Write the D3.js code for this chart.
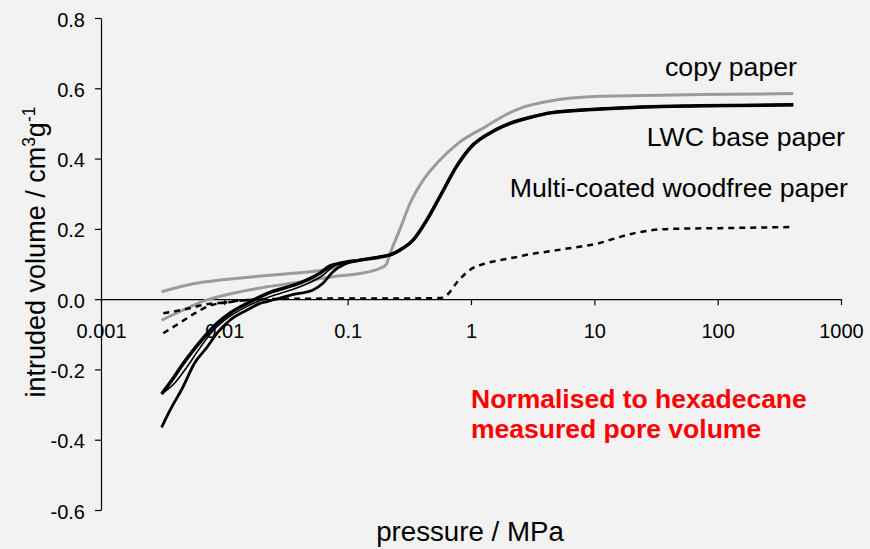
<!DOCTYPE html>
<html>
<head>
<meta charset="utf-8">
<script src="https://cdn.jsdelivr.net/npm/d3@7"></script>
<style>
  html, body { margin: 0; padding: 0; background: #f2f2f2; }
  svg { display: block; }
  text { font-family: "Liberation Sans", Arial, sans-serif; fill: #000; }
</style>
</head>
<body>
<svg id="chart" width="870" height="549"></svg>
<script>
// Mercury intrusion curves: [pressure / MPa, intruded volume / cm3 g-1]

// Copy paper (grey): low-pressure branches and the shared intrusion step
const copyLow = [[0.0031,-0.060],[0.0045,-0.033],[0.0065,-0.008],[0.0118,0.017],[0.0222,0.035],
  [0.041,0.049],[0.076,0.064],[0.126,0.073],[0.183,0.088]];
const copyLowRepeat = [[0.0031,0.021],[0.0056,0.044],[0.0102,0.056],[0.0187,0.065],[0.034,0.073],
  [0.05,0.078],[0.07,0.086],[0.09,0.096]];
const copyHigh = [[0.205,0.098],[0.221,0.130],[0.266,0.200],[0.318,0.270],[0.408,0.338],[0.54,0.390],
  [0.79,0.444],[1.3,0.490],[1.9,0.524],[2.5,0.543],[4.4,0.564],[11,0.577],[72,0.582],[410,0.585]];

// LWC base paper (black): three low-pressure branches joining one intrusion curve
const lwcLowA = [[0.0031,-0.270],[0.00384,-0.226],[0.00454,-0.188],[0.00547,-0.150],[0.00671,-0.112],
  [0.00873,-0.069],[0.0111,-0.040],[0.0161,-0.008],[0.0222,0.016],[0.041,0.046],[0.0596,0.074],
  [0.0716,0.094],[0.087,0.102],[0.126,0.111],[0.183,0.120]];
const lwcLowB = [[0.0031,-0.365],[0.00363,-0.316],[0.00462,-0.250],[0.00571,-0.183],[0.00724,-0.137],
  [0.00873,-0.097],[0.0111,-0.060],[0.0153,-0.031],[0.0195,-0.012],[0.0222,-0.007],[0.035,0.012],
  [0.0524,0.026],[0.063,0.045],[0.076,0.078],[0.095,0.100],[0.126,0.111],[0.183,0.120]];
const lwcLowC = [[0.0031,-0.270],[0.0040,-0.237],[0.0050,-0.192],[0.0063,-0.140],[0.0080,-0.092],
  [0.0105,-0.055],[0.015,-0.022],[0.0222,0.004],[0.041,0.035],[0.063,0.068],[0.076,0.092],[0.087,0.102]];
const lwcHigh = [[0.221,0.126],[0.266,0.140],[0.339,0.168],[0.438,0.225],[0.556,0.290],[0.771,0.380],
  [1.0,0.433],[1.43,0.473],[2.07,0.500],[3.16,0.519],[4.38,0.530],[11.1,0.541],[25,0.547],[72,0.550],[410,0.553]];

// Multi-coated woodfree paper (dashed)
const mcwLowA = [[0.0032,-0.040],[0.0045,-0.031],[0.0074,-0.014],[0.0105,-0.009],[0.0147,-0.003],[0.0206,0.000]];
const mcwLowB = [[0.0032,-0.097],[0.0042,-0.071],[0.0058,-0.040],[0.0074,-0.020],[0.0105,-0.009],
  [0.0147,-0.003],[0.0206,0.000]];
const mcwHigh = [[0.04,0.001],[0.1,0.002],[0.3,0.002],[0.56,0.003],[0.64,0.012],[0.771,0.048],[0.98,0.083],
  [1.35,0.103],[1.73,0.111],[2.36,0.120],[3.0,0.128],[4.12,0.135],[6.3,0.145],[11.1,0.160],[16.1,0.177],
  [23.4,0.191],[41,0.200],[104,0.202],[385,0.205]];

// Axis ticks
const xTicks = [0.001, 0.01, 0.1, 1, 10, 100, 1000];
const xTickLabels = ["0.001", "0.01", "0.1", "1", "10", "100", "1000"];
const yTicks = [-0.6, -0.4, -0.2, 0.0, 0.2, 0.4, 0.6, 0.8];

// Series labels
const seriesLabels = ["copy paper", "LWC base paper", "Multi-coated woodfree paper"];
const noteLines = ["Normalised to hexadecane", "measured pore volume"];

const svg = d3.select("#chart");

const x = d3.scaleLog().domain([0.001, 1000]).range([101, 841]);
const y = d3.scaleLinear().domain([-0.6, 0.8]).range([510, 18]);

// Axes: x axis runs along volume = 0
const xAxis = svg.append("g")
  .attr("transform", `translate(0,${y(0)})`)
  .call(d3.axisBottom(x).tickValues(xTicks)
    .tickFormat((d, i) => xTickLabels[i]).tickSize(6).tickSizeOuter(0).tickPadding(19));
const yAxis = svg.append("g")
  .attr("transform", `translate(${x(0.001)},0)`)
  .call(d3.axisLeft(y).tickValues(yTicks)
    .tickFormat(d => d.toFixed(1)).tickSize(6).tickSizeOuter(0).tickPadding(10));

[xAxis, yAxis].forEach(g => {
  g.select(".domain").attr("stroke", "#000").attr("stroke-width", 1.2);
  g.selectAll(".tick line").attr("stroke", "#000").attr("stroke-width", 1.2);
  g.selectAll(".tick text").attr("font-size", 20).attr("font-family", "Liberation Sans, Arial, sans-serif").attr("fill", "#000");
});
yAxis.selectAll(".tick text").attr("dy", "0.4em");

const line = d3.line()
  .x(d => x(d[0]))
  .y(d => y(d[1]))
  .curve(d3.curveMonotoneX);

const curves = svg.append("g").attr("fill", "none").attr("stroke-linejoin", "round");

// grey copy paper
curves.append("path").attr("d", line(copyLowRepeat)).attr("stroke", "#9b9b9b").attr("stroke-width", 3);
curves.append("path").attr("d", line(copyLow.concat(copyHigh))).attr("stroke", "#9b9b9b").attr("stroke-width", 3);

// black LWC base paper
curves.append("path").attr("d", line(lwcLowC)).attr("stroke", "#000").attr("stroke-width", 1.6);
curves.append("path").attr("d", line(lwcLowB.concat(lwcHigh))).attr("stroke", "#000").attr("stroke-width", 2.8);
curves.append("path").attr("d", line(lwcLowA.concat(lwcHigh))).attr("stroke", "#000").attr("stroke-width", 3.5);

// dashed multi-coated woodfree paper
curves.append("path").attr("d", line(mcwLowB)).attr("stroke", "#000").attr("stroke-width", 2.5).attr("stroke-dasharray", "6,5");
curves.append("path").attr("d", line(mcwLowA.concat(mcwHigh))).attr("stroke", "#000").attr("stroke-width", 2.5).attr("stroke-dasharray", "6,5");

// series labels
const labelPos = [[797, 76], [845, 146], [848, 197]];
svg.append("g").selectAll("text").data(seriesLabels).join("text")
  .attr("x", (d, i) => labelPos[i][0]).attr("y", (d, i) => labelPos[i][1])
  .attr("text-anchor", "end").attr("font-size", 26.7).text(d => d);

// red note
svg.append("g").selectAll("text").data(noteLines).join("text")
  .attr("x", 471).attr("y", (d, i) => 408 + i * 30)
  .attr("font-size", 26.5).attr("font-weight", "bold").style("fill", "#ff0000").text(d => d);

// axis titles
svg.append("text").attr("x", 470).attr("y", 541).attr("text-anchor", "middle")
  .attr("font-size", 27.7).text("pressure / MPa");

const yTitle = svg.append("text")
  .attr("transform", "translate(45,252) rotate(-90)")
  .attr("text-anchor", "middle").attr("font-size", 27);
yTitle.append("tspan").text("intruded volume / cm");
yTitle.append("tspan").attr("font-size", 17.5).attr("dy", -10).text("3");
yTitle.append("tspan").attr("dy", 10).text("g");
yTitle.append("tspan").attr("font-size", 17.5).attr("dy", -10).text("-1");
</script>
</body>
</html>
